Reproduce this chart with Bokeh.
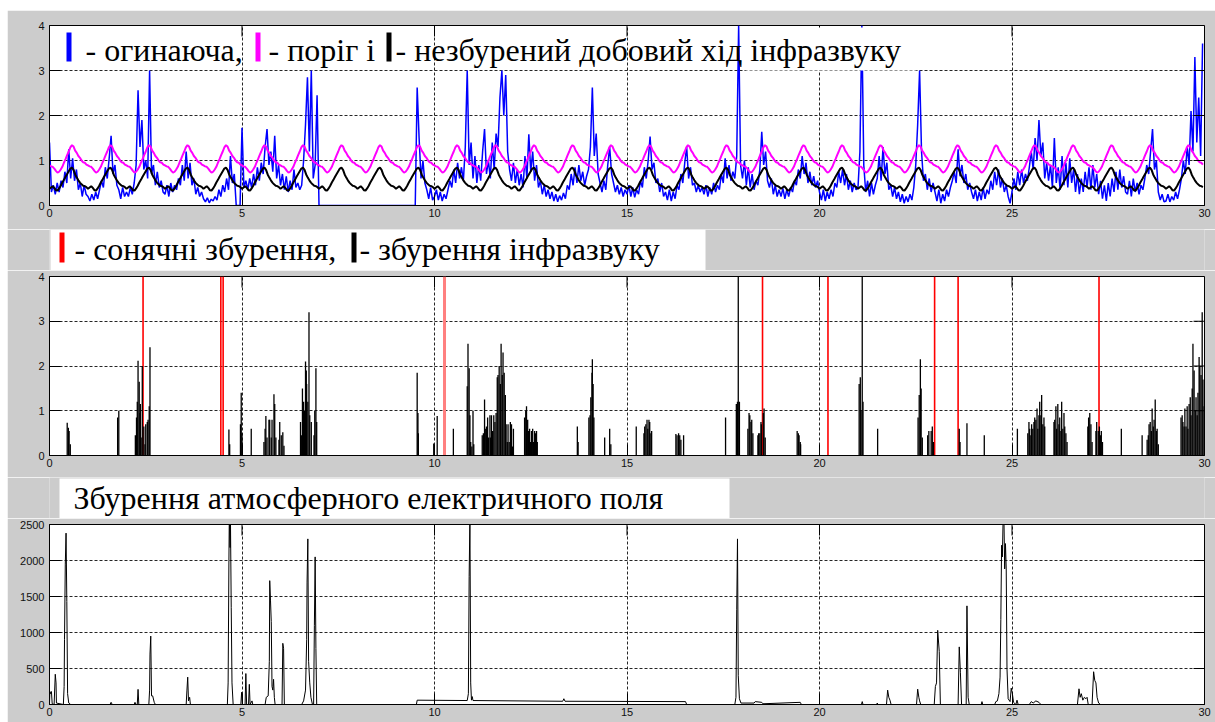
import numpy as np
from bokeh.plotting import figure
from bokeh.layouts import column
from bokeh.models import Label, BoxAnnotation, Range1d, FixedTicker
from bokeh.embed import file_html
from bokeh.resources import INLINE

# ------------------------------------------------------------------ data
DAYS = 30
X_TICKS = [0, 5, 10, 15, 20, 25, 30]
Y_TICKS_INFRA = [0, 1, 2, 3, 4]
Y_TICKS_FIELD = [0, 500, 1000, 1500, 2000, 2500]

# undisturbed mean daily course of infrasound (hourly values of one day)
QUIET_DAILY = [0.37, 0.40, 0.43, 0.39, 0.34, 0.33, 0.38, 0.44, 0.51, 0.57, 0.64, 0.70,
               0.76, 0.82, 0.84, 0.79, 0.69, 0.62, 0.56, 0.51, 0.47, 0.44, 0.43, 0.41]
# threshold daily course (hourly values of one day)
THRESH_DAILY = [0.89, 0.87, 0.86, 0.82, 0.77, 0.73, 0.75, 0.80, 0.86, 0.95, 1.03, 1.12,
                1.20, 1.29, 1.34, 1.31, 1.22, 1.17, 1.10, 1.06, 1.00, 0.96, 0.95, 0.91]

# infrasound envelope, one value every 0.05 day
ENV_STEP = 0.05
ENV_D00_04 = [
    1.40, 0.30, 0.45, 0.25, 0.50, 0.30, 0.55, 0.40, 0.75, 0.50, 1.25, 0.60, 1.05, 0.55, 0.80, 0.35, 0.50, 0.20, 0.45, 0.25,
    0.20, 0.10, 0.25, 0.12, 0.30, 0.15, 0.35, 0.55, 0.40, 0.85, 0.60, 1.05, 1.55, 0.70, 0.90, 0.45, 0.35, 0.15, 0.40, 0.20,
    0.30, 0.20, 0.40, 0.25, 0.50, 0.90, 2.56, 1.30, 1.90, 0.80, 1.00, 0.60, 3.00, 0.70, 0.90, 0.45, 0.75, 0.40, 0.55, 0.30,
    0.25, 0.45, 0.20, 0.50, 0.30, 0.45, 0.35, 0.60, 0.45, 0.90, 0.55, 1.20, 0.60, 0.95, 0.45, 0.60, 0.25, 0.40, 0.20, 0.30,
    0.15, 0.08, 0.17, 0.06, 0.14, 0.10, 0.20, 0.12, 0.35, 0.20, 0.45, 0.30, 0.60, 0.35, 1.10, 0.50, 0.70, 0.00, 0.00, 0.00]
ENV_D05_09 = [
    1.73, 0.40, 0.55, 0.35, 0.60, 0.40, 0.70, 0.45, 0.85, 0.55, 0.95, 0.70, 1.30, 1.70, 0.90, 1.20, 0.75, 1.55, 0.60, 0.90,
    0.45, 0.70, 0.35, 0.65, 0.30, 0.55, 0.35, 0.80, 0.40, 0.50, 0.35, 0.45, 1.00, 1.80, 2.85, 1.20, 3.00, 0.60, 0.90, 2.45,
    0.00, 0.00, 0.00, 0.00, 0.00, 0.00, 0.00, 0.00, 0.00, 0.00, 0.00, 0.00, 0.00, 0.00, 0.00, 0.00, 0.00, 0.00, 0.00, 0.00,
    0.00, 0.00, 0.00, 0.00, 0.00, 0.00, 0.00, 0.00, 0.00, 0.00, 0.00, 0.00, 0.00, 0.00, 0.00, 0.00, 0.00, 0.00, 0.00, 0.00,
    0.00, 0.00, 0.00, 0.00, 0.00, 0.00, 0.00, 0.00, 0.00, 0.00, 0.00, 2.62, 1.50, 0.60, 1.00, 0.50, 0.35, 0.15, 0.40, 0.12]
ENV_D10_14 = [
    0.20, 0.35, 0.12, 0.30, 0.10, 0.25, 0.15, 0.35, 0.55, 0.40, 0.80, 0.50, 0.95, 0.60, 0.85, 0.55, 1.30, 3.00, 0.90, 1.40,
    0.60, 1.10, 0.50, 0.90, 0.55, 1.20, 1.70, 0.70, 1.00, 0.60, 1.40, 0.80, 1.60, 1.30, 2.40, 3.00, 2.00, 2.90, 1.20, 0.80,
    0.55, 0.95, 0.50, 0.80, 0.45, 0.70, 0.40, 1.10, 0.60, 1.58, 0.75, 1.20, 0.55, 0.90, 0.40, 0.55, 0.25, 0.45, 0.20, 0.35,
    0.15, 0.30, 0.10, 0.25, 0.08, 0.22, 0.12, 0.28, 0.15, 0.45, 0.35, 0.70, 0.45, 0.85, 0.50, 0.90, 0.55, 0.75, 0.45, 0.65,
    0.80, 1.30, 2.62, 1.10, 1.60, 0.70, 0.50, 0.30, 0.55, 0.35, 0.90, 1.30, 0.70, 0.50, 0.30, 0.45, 0.25, 0.40, 0.20, 0.35]
ENV_D15_19 = [
    0.25, 0.45, 0.20, 0.40, 0.18, 0.35, 0.25, 0.55, 0.40, 0.85, 0.60, 1.00, 1.53, 0.80, 0.95, 0.50, 0.60, 0.30, 0.50, 0.20,
    0.30, 0.12, 0.35, 0.10, 0.30, 0.15, 0.45, 0.35, 0.70, 0.50, 0.95, 1.30, 0.60, 0.85, 0.45, 0.50, 0.30, 0.45, 0.30, 0.40,
    0.25, 0.45, 0.20, 0.40, 0.25, 0.50, 0.30, 0.45, 0.35, 0.70, 0.50, 1.05, 0.60, 0.90, 0.55, 0.75, 0.60, 1.10, 4.00, 0.90,
    0.60, 1.00, 0.45, 0.85, 0.40, 0.70, 0.35, 0.55, 0.45, 0.80, 1.64, 0.90, 1.20, 0.55, 0.40, 0.60, 0.25, 0.45, 0.20, 0.35,
    0.20, 0.38, 0.15, 0.35, 0.20, 0.40, 0.30, 0.55, 0.45, 0.80, 0.60, 1.10, 0.70, 0.95, 0.50, 0.75, 0.45, 0.65, 0.40, 0.55]
ENV_D20_24 = [
    0.30, 0.12, 0.35, 0.10, 0.30, 0.15, 0.35, 0.20, 0.50, 0.40, 0.75, 0.50, 0.80, 0.45, 0.70, 0.35, 0.55, 0.30, 0.50, 0.35,
    0.40, 1.20, 4.00, 0.90, 0.30, 0.55, 0.20, 0.50, 0.25, 0.45, 0.60, 1.10, 0.55, 1.30, 0.70, 0.95, 0.35, 0.45, 0.20, 0.40,
    0.15, 0.30, 0.08, 0.25, 0.05, 0.20, 0.08, 0.25, 0.12, 0.40, 0.90, 1.80, 3.00, 1.20, 0.55, 0.70, 0.35, 0.60, 0.30, 0.50,
    0.30, 0.10, 0.35, 0.05, 0.25, 0.10, 0.35, 0.20, 0.40, 0.55, 0.75, 0.50, 1.25, 0.65, 0.90, 0.50, 0.70, 0.35, 0.50, 0.30,
    0.15, 0.35, 0.10, 0.30, 0.12, 0.40, 0.15, 0.35, 0.25, 0.55, 0.35, 0.75, 0.45, 0.80, 0.40, 0.60, 0.30, 0.45, 0.20, 0.05]
ENV_D25_29 = [
    0.30, 0.60, 0.35, 0.75, 0.45, 0.80, 0.50, 0.70, 0.55, 0.85, 1.20, 0.80, 1.50, 1.00, 1.90, 1.10, 1.40, 0.60, 0.95, 0.55,
    0.90, 0.40, 1.50, 0.50, 0.85, 0.35, 1.10, 0.45, 0.95, 0.40, 1.05, 0.50, 0.80, 0.30, 0.70, 0.25, 0.60, 0.30, 0.75, 0.40,
    0.85, 0.35, 0.90, 0.40, 0.70, 0.25, 0.55, 0.15, 0.45, 0.10, 0.50, 0.20, 0.60, 0.30, 0.75, 0.35, 0.80, 0.40, 0.65, 0.30,
    0.25, 0.55, 0.20, 0.60, 0.30, 0.50, 0.25, 0.45, 0.35, 0.60, 0.90, 0.70, 1.20, 1.70, 0.80, 1.00, 0.30, 0.12, 0.25, 0.08,
    0.10, 0.25, 0.08, 0.20, 0.12, 0.30, 0.15, 0.35, 0.60, 1.00, 0.70, 1.30, 0.90, 2.10, 1.20, 3.30, 1.40, 2.40, 1.10, 3.60]

# infrasound disturbances (day, amplitude)
INFRA_DIST = [
    (0.46, 0.73), (0.49, 0.62), (0.51, 0.55), (0.54, 0.25), (1.77, 0.85), (1.80, 1.00),
    (2.23, 0.45), (2.26, 0.85), (2.28, 1.20), (2.30, 2.12), (2.33, 1.65), (2.35, 0.95), (2.36, 1.15),
    (2.38, 0.40), (2.41, 2.00), (2.45, 0.65), (2.48, 0.25), (2.50, 0.70), (2.54, 0.75), (2.56, 0.80),
    (2.59, 1.10), (2.61, 2.42), (4.66, 0.58), (4.68, 0.25), (4.96, 0.70), (4.98, 1.40), (5.00, 0.50),
    (5.24, 0.60), (5.57, 0.30), (5.60, 0.60), (5.62, 0.88), (5.65, 0.40), (5.70, 0.80), (5.72, 0.80),
    (5.76, 0.40), (5.78, 0.80), (5.83, 1.37), (5.85, 1.15), (5.88, 0.40), (5.96, 0.35), (5.98, 0.75),
    (6.02, 0.45), (6.06, 0.52), (6.09, 0.22), (6.52, 0.75), (6.55, 0.45), (6.57, 1.50), (6.60, 1.20),
    (6.62, 1.00), (6.65, 2.10), (6.67, 1.90), (6.68, 1.60), (6.71, 1.20), (6.74, 3.20), (6.76, 0.90),
    (6.80, 0.75), (6.87, 0.45), (6.89, 1.00), (6.92, 1.95), (6.94, 0.75),
    (9.55, 1.85), (9.57, 0.95), (9.58, 0.50), (9.98, 0.27), (10.07, 0.88), (10.49, 0.60),
    (10.85, 1.55), (10.87, 2.50), (10.90, 1.95), (10.92, 0.90), (10.94, 0.30), (10.97, 0.20), (11.00, 1.00),
    (11.02, 0.25), (11.24, 0.45), (11.27, 0.50), (11.30, 1.25), (11.33, 0.60), (11.35, 0.65), (11.38, 0.85),
    (11.40, 0.40), (11.44, 0.90), (11.45, 0.40), (11.48, 0.90), (11.51, 0.55), (11.54, 0.90), (11.57, 0.75),
    (11.60, 0.95), (11.63, 1.75), (11.65, 1.80), (11.68, 2.00), (11.71, 1.60), (11.73, 2.50), (11.76, 1.80),
    (11.78, 2.30), (11.81, 1.85), (11.84, 1.35), (11.86, 0.70), (11.89, 0.30), (11.91, 0.70), (11.94, 0.30),
    (11.97, 0.75), (12.00, 0.70), (12.03, 0.20), (12.05, 0.60), (12.34, 0.85), (12.37, 1.00), (12.39, 1.10),
    (12.42, 0.80), (12.44, 0.55), (12.47, 0.60), (12.49, 0.30), (12.52, 0.55), (12.55, 0.60), (12.57, 0.30),
    (12.60, 0.55), (12.62, 0.50), (12.65, 0.55), (12.67, 0.30), (13.71, 0.65), (13.73, 0.30),
    (14.01, 0.85), (14.04, 0.90), (14.06, 1.30), (14.09, 1.85), (14.10, 2.15), (14.12, 1.60), (14.14, 0.85),
    (14.42, 0.40), (14.55, 0.60), (14.58, 0.25), (15.24, 0.65), (15.44, 0.50), (15.46, 0.65), (15.49, 0.70),
    (15.52, 0.80), (15.54, 0.60), (15.57, 0.80), (15.59, 0.75), (15.62, 0.50), (15.64, 0.55),
    (16.27, 0.48), (16.30, 0.45), (16.34, 0.50), (16.37, 0.45), (16.40, 0.35), (16.47, 0.45), (17.56, 0.85),
    (17.84, 1.15), (17.87, 1.20), (17.89, 4.00), (17.92, 1.20), (18.14, 0.60), (18.17, 0.95), (18.19, 0.90),
    (18.22, 0.75), (18.24, 0.80), (18.27, 0.50), (18.40, 0.45), (18.42, 0.50), (18.45, 0.50), (18.48, 0.75),
    (18.49, 0.70), (18.54, 0.95), (18.56, 1.05), (18.59, 0.40), (19.42, 0.55), (19.45, 0.50), (19.47, 0.45),
    (19.50, 0.30), (19.51, 0.25),
    (21.03, 1.60), (21.06, 1.75), (21.08, 1.00), (21.11, 4.00), (21.13, 1.20), (21.51, 0.60),
    (22.56, 0.85), (22.59, 1.35), (22.62, 2.15), (22.64, 1.50), (22.67, 0.40), (22.81, 0.45), (22.84, 0.55),
    (22.90, 0.55), (22.93, 0.65), (22.96, 0.30), (23.63, 0.60), (23.65, 0.30), (23.83, 0.72), (24.28, 0.45),
    (25.14, 0.60), (25.41, 0.50), (25.44, 0.75), (25.46, 0.60), (25.49, 0.45), (25.51, 0.70), (25.54, 0.60),
    (25.57, 0.75), (25.59, 0.85), (25.62, 0.80), (25.65, 1.05), (25.67, 0.60), (25.70, 0.90), (25.72, 1.20),
    (25.75, 0.90), (25.77, 1.35), (25.80, 0.70), (25.83, 0.85), (25.85, 0.65), (26.09, 0.75), (26.11, 0.80),
    (26.14, 1.10), (26.16, 0.60), (26.19, 1.15), (26.22, 0.70), (26.24, 0.85), (26.27, 0.55), (26.29, 1.20),
    (26.32, 0.60), (26.35, 0.95), (26.37, 0.65), (26.40, 0.50), (26.43, 0.30), (26.97, 0.65), (26.99, 0.85),
    (27.02, 0.95), (27.05, 0.70), (27.08, 0.30), (27.18, 0.55), (27.20, 0.75), (27.24, 0.55), (27.27, 0.65),
    (27.30, 0.45), (27.32, 0.55), (27.35, 0.30), (27.84, 0.60), (28.38, 0.45), (28.51, 0.35), (28.54, 0.45),
    (28.56, 0.70), (28.59, 0.75), (28.62, 0.55), (28.64, 1.05), (28.67, 0.65), (28.69, 0.80), (28.72, 1.25),
    (28.75, 0.55), (28.77, 0.60), (28.80, 0.25), (29.39, 0.85), (29.42, 0.90), (29.44, 0.75), (29.47, 0.65),
    (29.49, 1.05), (29.52, 0.65), (29.55, 1.10), (29.57, 0.60), (29.60, 1.15), (29.63, 1.30), (29.65, 0.90),
    (29.68, 1.50), (29.70, 2.50), (29.73, 1.90), (29.76, 1.00), (29.78, 1.30), (29.81, 0.90), (29.83, 1.40),
    (29.86, 2.20), (29.88, 2.00), (29.91, 1.80), (29.94, 3.20), (29.96, 1.70), (29.99, 1.10)]

# solar disturbances (day)
SOLAR_DAYS = [2.43, 4.45, 4.51, 18.52, 20.22, 22.99, 23.60, 27.26]
SOLAR_DAYS_WEAK = [10.26]

# atmospheric electric field disturbance (day, value)
FIELD = [
    (0.00, 0), (0.01, 180), (0.03, 150), (0.05, 180), (0.07, 10), (0.12, 0), (0.15, 420), (0.17, 300),
    (0.18, 20), (0.36, 0), (0.38, 250), (0.39, 900), (0.41, 1950), (0.43, 2380), (0.45, 1430), (0.47, 150),
    (0.50, 20), (0.55, 0), (1.57, 0), (1.60, 30), (1.63, 0), (2.20, 0), (2.22, 30), (2.25, 0), (2.28, 0),
    (2.30, 210), (2.32, 0), (2.58, 0), (2.60, 200), (2.61, 700), (2.63, 950), (2.65, 120), (2.68, 120),
    (2.72, 30), (2.75, 0), (3.55, 0), (3.57, 200), (3.59, 380), (3.61, 50), (3.64, 100), (3.66, 0),
    (4.62, 0), (4.64, 300), (4.66, 2000), (4.67, 2600), (4.69, 2180), (4.70, 2600), (4.72, 1350), (4.74, 300),
    (4.77, 0), (4.97, 0), (4.99, 170), (5.01, 0), (5.08, 0), (5.10, 430), (5.12, 0), (5.17, 0), (5.19, 280),
    (5.21, 0), (5.26, 50), (5.28, 0), (5.60, 0), (5.63, 100), (5.68, 120), (5.71, 600), (5.72, 1720),
    (5.74, 1450), (5.76, 1150), (5.78, 250), (5.80, 200), (5.82, 350), (5.84, 100), (5.86, 0), (6.04, 0),
    (6.06, 850), (6.08, 780), (6.10, 0), (6.55, 0), (6.60, 50), (6.65, 200), (6.68, 900), (6.69, 1700),
    (6.71, 2300), (6.73, 600), (6.76, 300), (6.79, 100), (6.83, 0), (6.86, 0), (6.88, 1100), (6.90, 2050),
    (6.92, 780), (6.94, 0), (9.53, 0), (9.55, 60), (10.85, 55), (10.88, 150), (10.90, 1780), (10.92, 2600),
    (10.94, 300), (10.96, 60), (10.98, 110), (11.00, 55), (13.33, 45), (13.36, 80), (13.39, 45), (16.52, 40),
    (16.55, 0), (17.80, 0), (17.83, 100), (17.85, 1315), (17.87, 2300), (17.89, 400), (17.92, 80), (17.96, 20),
    (18.30, 20), (18.33, 40), (18.50, 30), (18.53, 10), (19.50, 30), (19.53, 0), (21.09, 0), (21.11, 40),
    (21.13, 0), (21.48, 0), (21.50, 20), (21.52, 0), (21.74, 0), (21.77, 200), (21.80, 100), (21.83, 60),
    (21.86, 0), (22.52, 0), (22.55, 213), (22.58, 100), (22.60, 50), (22.63, 0), (22.98, 0), (23.01, 250),
    (23.04, 300), (23.07, 1030), (23.11, 737), (23.14, 0), (23.60, 0), (23.63, 800), (23.66, 440), (23.69, 0),
    (23.81, 0), (23.83, 1370), (23.86, 100), (23.89, 0), (24.20, 0), (24.22, 40), (24.24, 0), (24.55, 0),
    (24.58, 40), (24.62, 50), (24.66, 150), (24.69, 380), (24.71, 1178), (24.73, 2212), (24.75, 2050),
    (24.77, 2600), (24.79, 2600), (24.81, 1883), (24.83, 2235), (24.85, 1883), (24.87, 500), (24.90, 80),
    (24.95, 40), (24.98, 227), (25.01, 150), (25.04, 30), (25.10, 0), (25.13, 60), (25.16, 0), (25.45, 0),
    (25.50, 40), (25.55, 20), (25.62, 50), (25.70, 30), (25.75, 0), (26.70, 0), (26.74, 218), (26.77, 100),
    (26.80, 150), (26.84, 60), (26.88, 100), (26.92, 80), (26.95, 100), (26.98, 0), (27.08, 0), (27.12, 455),
    (27.15, 334), (27.18, 300), (27.21, 100), (27.25, 20), (27.30, 0), (30.00, 0)]

LEGEND_1 = ["- огинаюча,", "- поріг і", "- незбурений добовий хід інфразвуку"]
LEGEND_2 = ["- сонячні збурення,", "- збурення  інфразвуку"]
LEGEND_3 = "Збурення атмосферного електричного поля"

# ------------------------------------------------------------------ layout helpers
BG = "#cccccc"
FRAME_W = 1155
PAGE_LEFT = 7
PAGE_TOP = 10
BORDER_L = 42
BORDER_R = 11
FRAME_X0 = PAGE_LEFT + BORDER_L  # page x of day 0
FRAME_X1 = FRAME_X0 + FRAME_W
PX_PER_DAY = FRAME_W / 30.0
TICK_LEN = 11
TICK_FONT = "Liberation Sans"
LEG_FONT = "Liberation Serif"
LEG_SIZE = "32px"
LEG_MID = 11  # distance (px) from the text's middle line up from its baseline


def px2day(x):
    return (x - FRAME_X0) / PX_PER_DAY


def make_fig(ymax, yticks, top, frame_h, bottom):
    p = figure(frame_width=FRAME_W, frame_height=frame_h,
               min_border_left=BORDER_L, min_border_right=BORDER_R,
               min_border_top=top, min_border_bottom=bottom,
               x_range=Range1d(0, 30), y_range=Range1d(0, ymax),
               output_backend="svg", toolbar_location=None,
               background_fill_color="white", border_fill_color=BG,
               outline_line_color="black", outline_line_width=1)
    for ax, tk in ((p.xaxis[0], X_TICKS), (p.yaxis[0], yticks)):
        ax.ticker = FixedTicker(ticks=tk)
        ax.major_tick_in = TICK_LEN
        ax.major_tick_out = 0
        ax.minor_tick_in = 0
        ax.minor_tick_out = 0
        ax.axis_line_color = "black"
        ax.major_tick_line_color = "black"
        ax.major_label_text_font = TICK_FONT
        ax.major_label_text_font_size = "11px"
        ax.major_label_text_color = "#111111"
    p.xaxis.major_label_standoff = 3
    p.yaxis.major_label_standoff = 5
    p.xgrid.ticker = FixedTicker(ticks=X_TICKS)
    p.ygrid.ticker = FixedTicker(ticks=yticks)
    for g in (p.xgrid[0], p.ygrid[0]):
        g.grid_line_color = "black"
        g.grid_line_dash = "3 2"
        g.grid_line_alpha = 0.85
        g.grid_line_width = 1
    return p


def box_ticks(p, ymax, yticks, frame_h):
    # mirrored inward ticks on the right and top edges of the box
    lx = TICK_LEN / PX_PER_DAY
    ly = TICK_LEN * ymax / frame_h
    n = len(yticks)
    p.segment(x0=[30 - lx] * n, y0=yticks, x1=[30] * n, y1=yticks, line_color="black", line_width=1)
    m = len(X_TICKS)
    p.segment(x0=X_TICKS, y0=[ymax - ly] * m, x1=X_TICKS, y1=[ymax] * m, line_color="black", line_width=1)


def legend_strip(h):
    # a strip with the same left/right borders as the panels; x in page pixels
    p = figure(frame_width=FRAME_W, frame_height=h,
               min_border_left=BORDER_L, min_border_right=BORDER_R,
               min_border_top=0, min_border_bottom=0,
               x_range=Range1d(FRAME_X0, FRAME_X1), y_range=Range1d(0, h),
               x_axis_type=None, y_axis_type=None,
               output_backend="svg", toolbar_location=None,
               background_fill_color=BG, border_fill_color=BG, outline_line_color=None)
    return p


def leg_label(x, y, txt):
    return Label(x=x, y=y, text=txt, text_font=LEG_FONT, text_font_size=LEG_SIZE,
                 text_color="black", text_baseline="middle")


# ------------------------------------------------------------------ panel 1
F1_TOP, F1_H, F1_BOT = 15, 180, 24
p1 = make_fig(4, Y_TICKS_INFRA, F1_TOP, F1_H, F1_BOT)
p1_y = lambda y: (PAGE_TOP + F1_TOP + F1_H - y) / (F1_H / 4.0)

env = np.array(ENV_D00_04 + ENV_D05_09 + ENV_D10_14 + ENV_D15_19 + ENV_D20_24 + ENV_D25_29)
env_x = np.arange(len(env)) * ENV_STEP
p1.line(env_x, env, line_color="#0000ff", line_width=1.5)

hour_x = np.arange(DAYS * 24) / 24.0
p1.line(hour_x, np.tile(THRESH_DAILY, DAYS), line_color="#ff00ff", line_width=2)
p1.line(hour_x, np.tile(QUIET_DAILY, DAYS), line_color="black", line_width=2)
box_ticks(p1, 4, Y_TICKS_INFRA, F1_H)

p1.add_layout(BoxAnnotation(left=px2day(745), right=px2day(916), top=p1_y(27), bottom=p1_y(70),
                            fill_color="white", fill_alpha=1, line_color=None))
for x0, col in ((66, "#0000ff"), (255, "#ff00ff"), (386, "black")):
    p1.add_layout(BoxAnnotation(left=px2day(x0), right=px2day(x0 + 5), top=p1_y(32), bottom=p1_y(61),
                                fill_color=col, fill_alpha=1, line_color=None))
for x0, txt in zip((85, 268, 395), LEGEND_1):
    p1.add_layout(leg_label(px2day(x0), p1_y(60 - LEG_MID), txt))

# ------------------------------------------------------------------ legend strip 2 (page y 229..270)
L2_TOP, L2_H = 229, 41
l2 = legend_strip(L2_H)
l2y = lambda y: L2_TOP + L2_H - y
l2.quad(left=[50], right=[705], top=[l2y(229)], bottom=[l2y(270)],
        fill_color="white", line_color=None)
l2.quad(left=[59, 351], right=[64, 356], top=[l2y(232)] * 2, bottom=[l2y(262)] * 2,
        fill_color=["#ff0000", "black"], line_color=None)
for x0, txt in zip((74, 359), LEGEND_2):
    l2.add_layout(leg_label(x0, l2y(259 - LEG_MID), txt))

# ------------------------------------------------------------------ panel 2
F2_TOP, F2_H, F2_BOT = 6, 179, 22
p2 = make_fig(4, Y_TICKS_INFRA, F2_TOP, F2_H, F2_BOT)

p2.segment(x0=SOLAR_DAYS, y0=[0] * len(SOLAR_DAYS), x1=SOLAR_DAYS, y1=[4] * len(SOLAR_DAYS),
           line_color="#ff0000", line_width=1.6)
p2.segment(x0=SOLAR_DAYS_WEAK, y0=[0], x1=SOLAR_DAYS_WEAK, y1=[4],
           line_color="#ff8080", line_width=3)
sx = [d for d, _ in INFRA_DIST]
sh = [h for _, h in INFRA_DIST]
p2.segment(x0=sx, y0=[0] * len(sx), x1=sx, y1=sh, line_color="black", line_width=1.3)
box_ticks(p2, 4, Y_TICKS_INFRA, F2_H)

# ------------------------------------------------------------------ legend strip 3 (page y 477..518)
L3_TOP, L3_H = 477, 41
l3 = legend_strip(L3_H)
l3y = lambda y: L3_TOP + L3_H - y
l3.quad(left=[59], right=[729], top=[l3y(478)], bottom=[l3y(518)],
        fill_color="white", line_color=None)
l3.add_layout(leg_label(73, l3y(508 - LEG_MID), LEGEND_3))

# ------------------------------------------------------------------ panel 3
F3_TOP, F3_H, F3_BOT = 6, 180, 18
p3 = make_fig(2500, Y_TICKS_FIELD, F3_TOP, F3_H, F3_BOT)
p3.line([d for d, _ in FIELD], [v for _, v in FIELD], line_color="black", line_width=1)
box_ticks(p3, 2500, Y_TICKS_FIELD, F3_H)

layout = column(p1, l2, p2, l3, p3, spacing=0, margin=(PAGE_TOP, 0, 0, PAGE_LEFT))
open("out.html", "w").write(file_html(layout, INLINE))
